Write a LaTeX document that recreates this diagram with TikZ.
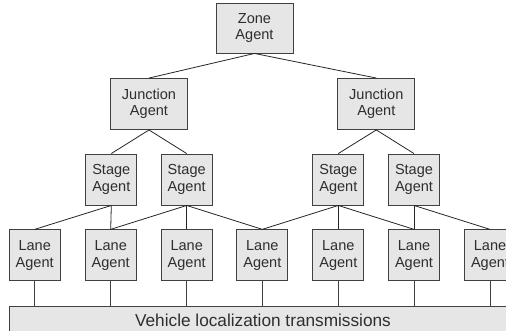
\documentclass[tikz,border=0pt]{standalone}
\usepackage{fontspec}
\setmainfont{Liberation Sans}
\definecolor{boxfill}{HTML}{E6E6E6}
\definecolor{boxline}{HTML}{404040}
\definecolor{inkgray}{HTML}{2E2E2E}
\begin{document}
\begin{tikzpicture}[x=1bp,y=-1bp,
  agent/.style={draw=boxline,fill=boxfill,line width=0.9bp,inner sep=0pt,
    minimum width=51bp,minimum height=51bp,align=center,text=inkgray,
    font=\fontsize{14.6}{16.5}\selectfont},
  wide/.style={agent,minimum width=77bp},
  link/.style={draw=black!85,line width=0.8bp},
  drop/.style={draw=boxline,line width=0.9bp}]
\clip (0,0) rectangle (506,330);

% management hierarchy
\node[wide,minimum height=50bp] (zone) at (254.5,28) {Zone\\Agent};
\node[wide] (jL) at (149,104) {Junction\\Agent};
\node[wide] (jR) at (376.3,104) {Junction\\Agent};

\node[agent] (s1) at (111.3,179.5) {Stage\\Agent};
\node[agent] (s2) at (186.7,179.5) {Stage\\Agent};
\node[agent] (s3) at (338.3,179.5) {Stage\\Agent};
\node[agent] (s4) at (414,179.5) {Stage\\Agent};

\foreach \i/\x in {1/34.7,2/110.7,3/186.7,4/262.3,5/338.3,6/414,7/490}
  \node[agent] (l\i) at (\x,255.3) {Lane\\Agent};

% shared communication bus
\node[draw=boxline,fill=boxfill,line width=0.9bp,minimum width=508bp,
  minimum height=40bp,inner sep=0pt] (bus) at (263.2,326) {};
\node[anchor=base,inner sep=0pt,text=inkgray,font=\fontsize{17.3}{20}\selectfont]
  (busText) at (263,326.5) {Vehicle localization transmissions};

% hierarchy links
\draw[link] (zone.south) -- (jL.north);
\draw[link] (zone.south) -- (jR.north);
\draw[link] (jL.south) -- (s1.north);
\draw[link] (jL.south) -- (s2.north);
\draw[link] (jR.south) -- (s3.north);
\draw[link] (jR.south) -- (s4.north);

\draw[link] (s1.south) -- (l1.north);
\draw[link] (s1.south) -- (l2.north);
\draw[link] (s2.south) -- (l2.north);
\draw[link] (s2.south) -- (l3.north);
\draw[link] (s2.south) -- (l4.north);
\draw[link] (s3.south) -- (l4.north);
\draw[link] (s3.south) -- (l5.north);
\draw[link] (s3.south) -- (l6.north);
\draw[link] (s4.south) -- (l6.north);
\draw[link] (s4.south) -- (l7.north);

% lane agents attached to the bus
\foreach \i in {1,...,7}
  \draw[drop] (l\i.south) -- (l\i.south |- bus.north);
\end{tikzpicture}
\end{document}
